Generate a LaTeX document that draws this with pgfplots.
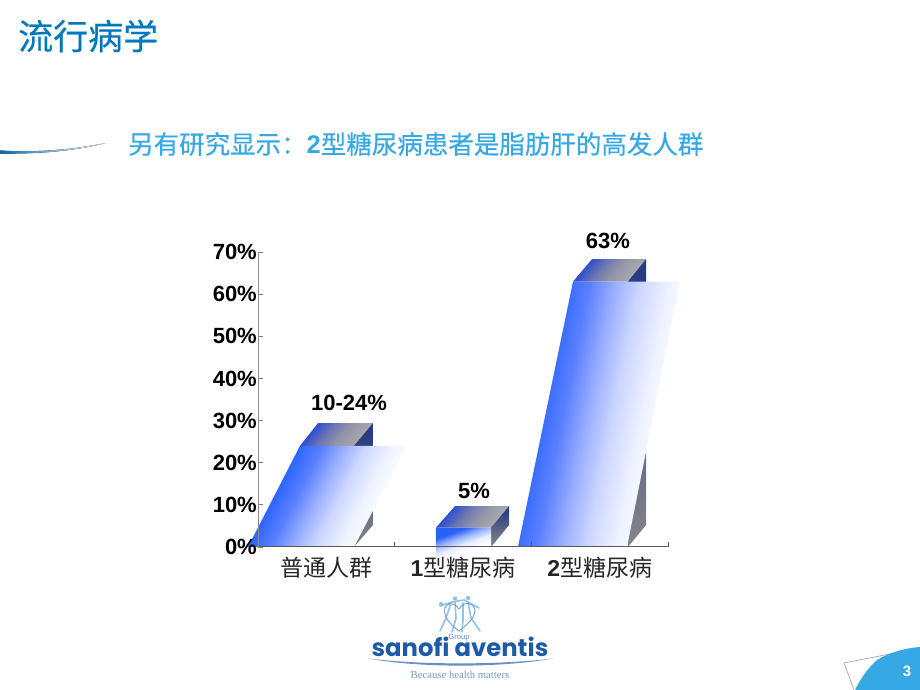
\documentclass[border=0pt]{standalone}
\usepackage{fontspec}
\usepackage{pgfplots}
\pgfplotsset{compat=1.18}
\setmainfont{Liberation Sans}
\newfontfamily\cjk{Noto Sans CJK SC}
\newfontfamily\cjkm[FakeBold=0.35]{Noto Sans CJK SC}
\newfontfamily\logofont{Poppins}
\newfontfamily\logoserif{Liberation Serif}
\definecolor{titleblue}{HTML}{0078BE}
\definecolor{subblue}{HTML}{36A8E4}
\definecolor{logoblue}{HTML}{1E5AAA}
\definecolor{logolight}{HTML}{8CC4EC}
\pgfdeclarehorizontalshading{barfade}{100bp}{
 rgb(0bp)=(0.13,0.37,1);
 rgb(31bp)=(0.13,0.37,1);
 rgb(40bp)=(0.35,0.50,1);
 rgb(47bp)=(0.60,0.68,1);
 rgb(54bp)=(0.80,0.84,1);
 rgb(62bp)=(0.93,0.95,1);
 rgb(70bp)=(1,1,1);
 rgb(100bp)=(1,1,1)}
\pgfdeclarehorizontalshading{smallfade}{100bp}{
 rgb(0bp)=(0.16,0.38,0.95);
 rgb(32bp)=(0.16,0.38,0.95);
 rgb(42bp)=(0.60,0.70,1);
 rgb(52bp)=(0.90,0.93,1);
 rgb(62bp)=(1,1,1);
 rgb(100bp)=(1,1,1)}
\pgfdeclarehorizontalshading{topfade}{100bp}{
 rgb(0bp)=(0.18,0.30,0.80);
 rgb(30bp)=(0.20,0.32,0.80);
 rgb(42bp)=(0.42,0.46,0.70);
 rgb(55bp)=(0.58,0.58,0.66);
 rgb(75bp)=(0.68,0.68,0.70);
 rgb(100bp)=(0.68,0.68,0.70)}
\pgfdeclarehorizontalshading{sidefade}{100bp}{
 rgb(0bp)=(0.14,0.22,0.50);
 rgb(30bp)=(0.16,0.24,0.50);
 rgb(55bp)=(0.38,0.40,0.52);
 rgb(75bp)=(0.52,0.52,0.54);
 rgb(100bp)=(0.55,0.55,0.55)}
\begin{document}
\begin{tikzpicture}[x=1pt,y=1pt]
\path[use as bounding box] (0,0) rectangle (920,690);
\begin{axis}[
  at={(258pt,143pt)}, anchor=south west,
  scale only axis, width=410pt, height=295pt,
  xmin=-0.5, xmax=2.5, ymin=0, ymax=70,
  clip=false, axis on top,
  axis x line=bottom, axis y line=left,
  x axis line style={-, draw=black!65, line width=1pt},
  y axis line style={-, draw=black!45, line width=1pt},
  tick align=inside, major tick length=5pt,
  xtick={0.5,1.5,2.5}, xticklabels={},
  x tick style={draw=black!65, line width=0.8pt},
  y tick style={draw=black!50, line width=0.8pt},
  extra x ticks={0,1,2},
  extra x tick labels={{\cjk 普通人群},{\textbf{1}\cjk 型糖尿病},{\textbf{2}\cjk 型糖尿病}},
  extra x tick style={major tick length=0pt, tick style={draw=none},
    tick label style={font=\fontsize{23}{23}\selectfont, yshift=-9pt, text=black!85}},
  ytick={0,10,...,70},
  yticklabels={0\%,10\%,20\%,30\%,40\%,50\%,60\%,70\%},
  y tick label style={font=\fontsize{22}{22}\selectfont\bfseries, xshift=0pt},
  tick label style={inner sep=1pt},
]
% bar 1: 10-24%
\addplot[draw=none, shading=topfade, shading angle=-40] coordinates {(-0.193,24) (-0.061,29.4) (0.341,29.4) (0.202,24)} -- cycle;
\addplot[draw=none, shading=sidefade, shading angle=-90] coordinates {(0.202,24) (0.341,29.4) (0.341,5.2) (0.202,0)} -- cycle;
\addplot[draw=none, shading=barfade, shading angle=-27] coordinates {(-0.573,0) (-0.193,24) (0.590,24) (0.202,0)} -- cycle;
% bar 2: 5%
\addplot[draw=none, shading=topfade, shading angle=-40] coordinates {(0.802,4.6) (0.941,9.7) (1.337,9.7) (1.205,4.6)} -- cycle;
\addplot[draw=none, shading=sidefade, shading angle=-90] coordinates {(1.205,4.6) (1.337,9.7) (1.337,5.2) (1.205,0)} -- cycle;
\addplot[draw=none, shading=smallfade, shading angle=-70] coordinates {(0.802,4.6) (1.205,4.6) (1.205,0) (0.802,-2.6)} -- cycle;
% bar 3: 63%
\addplot[draw=none, shading=topfade, shading angle=-40] coordinates {(1.805,63) (1.944,68.3) (2.339,68.3) (2.207,63)} -- cycle;
\addplot[draw=none, shading=sidefade, shading angle=-90] coordinates {(2.207,63) (2.339,68.3) (2.339,5.2) (2.207,0)} -- cycle;
\addplot[draw=none, shading=barfade, shading angle=-11.5] coordinates {(1.402,0) (1.805,63) (2.588,63) (2.200,0)} -- cycle;
% value labels
\addplot[draw=none, nodes near coords={10-24\%},
  every node near coord/.style={anchor=center, yshift=43pt, font=\fontsize{22}{22}\selectfont\bfseries, text=black}]
  coordinates {(0.166,24)};
\addplot[draw=none, nodes near coords={5\%},
  every node near coord/.style={anchor=center, yshift=37pt, font=\fontsize{22}{22}\selectfont\bfseries, text=black}]
  coordinates {(1.08,4.6)};
\addplot[draw=none, nodes near coords={63\%},
  every node near coord/.style={anchor=center, yshift=41pt, font=\fontsize{22}{22}\selectfont\bfseries, text=black}]
  coordinates {(2.06,63)};
\end{axis}
\begin{scope}[shift={(0,690)},y=-1pt]
% title
\node[anchor=west, inner sep=0pt, text=titleblue] at (18,36) {\fontsize{35}{35}\selectfont\cjkm 流行病学};
% subtitle
\node[anchor=west, inner sep=0pt, text=subblue] at (128,144) {\fontsize{25.5}{26}\selectfont\cjkm 另有研究显示：{\fontspec{Liberation Sans}\bfseries 2}型糖尿病患者是脂肪肝的高发人群};
% swoosh
\fill[left color=titleblue!90!black, right color=white] (0,150.5) .. controls (40,153) and (75,149) .. (106,143) .. controls (75,151) and (40,154) .. (0,153.5) -- cycle;
% logo figures
\begin{scope}[draw=logolight, line width=1.6pt, line cap=round]
\draw (440,606) -- (452,602) -- (464,600) -- (479,608);
\draw (451,603) -- (446,618) -- (440,631);
\draw (455,602) -- (456,618) -- (452,632);
\draw (468,602) -- (471,618) -- (480,631);
\draw (463,603) -- (463,620) -- (462,632);
\fill[logolight] (455,598.5) circle (2.2);
\fill[logolight] (468,598) circle (2.2);
\fill[logolight] (441,604) circle (2);
\draw[logoblue!60, line width=0.9pt] (459,609) .. controls (452,599) and (442,605) .. (445,614) .. controls (447,622) and (454,627) .. (459,631) .. controls (465,626) and (474,620) .. (475,611) .. controls (475,603) and (464,600) .. (459,609);
\end{scope}
\node[text=logoblue!70, inner sep=0pt] at (459,638) {\fontsize{7.5}{8}\selectfont Group};
\node[text=logoblue, inner sep=0pt, anchor=base] at (460,657) {\fontsize{24.3}{25}\selectfont\logofont\bfseries sanofi aventis};
\fill[logoblue!85, opacity=0.8] (368,658.5) .. controls (420,668) and (500,668) .. (553,658.5) .. controls (500,665) and (420,665) .. (368,658.5) -- cycle;
\node[text=logolight!80!black, inner sep=0pt] at (460,675) {\fontsize{10.7}{12}\selectfont\logoserif Because health matters};
% page badge
\draw[black!45, line width=0.5pt] (854,690) -- (844,663) -- (895,653);
\fill[subblue] (855,690) .. controls (861,678) and (868,668) .. (877,660) .. controls (888,653) and (905,648) .. (920,647) -- (920,690) -- cycle;
\node[text=white, inner sep=0pt] at (907,671.5) {\fontsize{15}{15}\selectfont\bfseries 3};
\end{scope}
\end{tikzpicture}
\end{document}
